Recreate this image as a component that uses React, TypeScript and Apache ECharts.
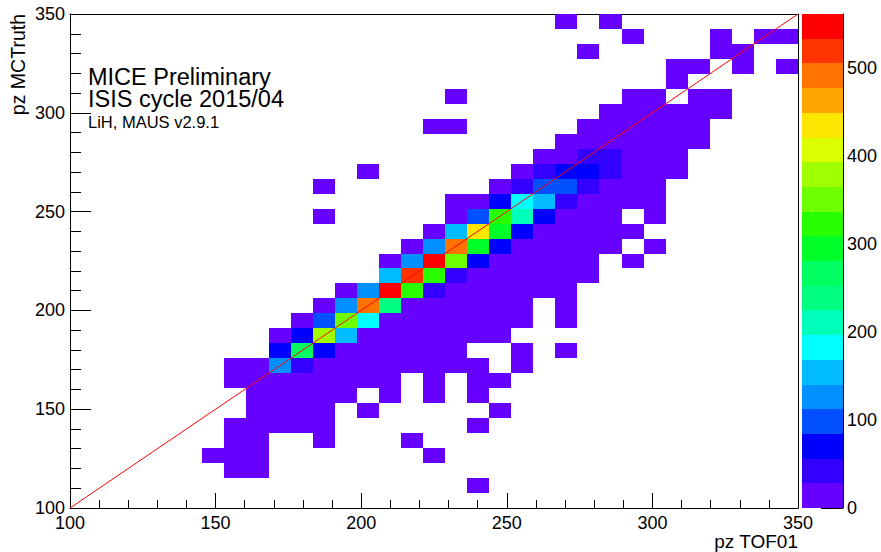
import React, { useEffect, useRef } from "react";
import * as echarts from "echarts";

const FONT = "'Liberation Sans', Arial, sans-serif";

const axisMin = 100;
const axisMax = 350;
const binCount = 33;
const zMax = 561.4;
const lowCount = 10;

const xTicks = [100, 150, 200, 250, 300, 350];
const zTicks = [0, 100, 200, 300, 400, 500];
const diagonal = [100, 350];

// ROOT palette, bottom band first
const palette = [
  "#6600ff", "#3300ff", "#0000ff", "#0050ff", "#0090ff",
  "#00bbff", "#00ffff", "#00ffbb", "#00ff80", "#00ff60",
  "#00ff28", "#28ff00", "#6eff00", "#a0ff00", "#dcff00",
  "#ffe600", "#ffa500", "#ff7300", "#ff3300", "#ff0000",
];

// For each y bin (bottom first): runs of x bins holding a small count
const lowRuns: number[][][] = [
  [],
  [[18, 18]],
  [[7, 8]],
  [[6, 8], [16, 16]],
  [[7, 8], [11, 11], [15, 15]],
  [[7, 11], [18, 18]],
  [[8, 11], [13, 13], [19, 19]],
  [[8, 12], [14, 14], [16, 16], [18, 18]],
  [[7, 14], [16, 16], [18, 19]],
  [[7, 18], [20, 20]],
  [[9, 17], [20, 20], [22, 22]],
  [[9, 19]],
  [[10, 20], [22, 22]],
  [[11, 20], [22, 22]],
  [[12, 22]],
  [[14, 23]],
  [[14, 23], [25, 25]],
  [[15, 24], [26, 26]],
  [[16, 25]],
  [[11, 11], [17, 24], [26, 26]],
  [[17, 26]],
  [[11, 11], [19, 26]],
  [[13, 13], [20, 27]],
  [[21, 27]],
  [[22, 28]],
  [[16, 17], [23, 28]],
  [[24, 29]],
  [[17, 17], [25, 26], [28, 29]],
  [[27, 27]],
  [[27, 28], [30, 30], [32, 32]],
  [[23, 23], [29, 30]],
  [[25, 25], [29, 29], [31, 32]],
  [[22, 22], [24, 24]],
];

// Ridge cells: x bin, y bin, count
const ridgeCells: number[][] = [
  [9, 9, 126], [10, 9, 40],
  [9, 10, 70], [10, 10, 267], [11, 10, 70],
  [10, 11, 70], [11, 11, 379], [12, 11, 154],
  [11, 12, 98], [12, 12, 351], [13, 12, 182],
  [12, 13, 126], [13, 13, 491], [14, 13, 238],
  [13, 14, 126], [14, 14, 547], [15, 14, 323], [16, 14, 40],
  [14, 15, 154], [15, 15, 519], [16, 15, 323], [17, 15, 40],
  [15, 16, 126], [16, 16, 547], [17, 16, 351], [18, 16, 70],
  [16, 17, 126], [17, 17, 491], [18, 17, 295], [19, 17, 70],
  [17, 18, 154], [18, 18, 435], [19, 18, 295], [20, 18, 70],
  [18, 19, 98], [19, 19, 323], [20, 19, 210], [21, 19, 70],
  [19, 20, 70], [20, 20, 182], [21, 20, 154], [22, 20, 40],
  [20, 21, 40], [21, 21, 98], [22, 21, 98], [23, 21, 40],
  [21, 22, 40], [22, 22, 70], [23, 22, 70], [24, 22, 40],
  [23, 23, 40], [24, 23, 40],
];

const binWidth = (axisMax - axisMin) / binCount;
const bandWidth = zMax / palette.length;

function colorOf(v: number) {
  const i = Math.min(palette.length - 1, Math.floor(v / bandWidth));
  return palette[i];
}

function buildCells() {
  const counts = new Map<string, number>();
  lowRuns.forEach((runs, j) => {
    runs.forEach(([a, b]) => {
      for (let k = a; k <= b; k++) counts.set(k + "," + j, lowCount);
    });
  });
  ridgeCells.forEach(([k, j, c]) => counts.set(k + "," + j, c));
  const out: number[][] = [];
  counts.forEach((c, key) => {
    const [k, j] = key.split(",").map(Number);
    out.push([
      axisMin + k * binWidth,
      axisMin + (k + 1) * binWidth,
      axisMin + j * binWidth,
      axisMin + (j + 1) * binWidth,
      c,
    ]);
  });
  return out;
}

// Edges are snapped to whole pixels so neighbouring cells leave no seam
const rectItem = (fill: (v: number) => string) => (_: any, api: any) => {
  const p0 = api.coord([api.value(0), api.value(2)]);
  const p1 = api.coord([api.value(1), api.value(3)]);
  const x0 = Math.round(p0[0]);
  const x1 = Math.round(p1[0]);
  const y0 = Math.round(p1[1]);
  const y1 = Math.round(p0[1]);
  return {
    type: "rect",
    shape: { x: x0, y: y0, width: x1 - x0, height: y1 - y0 },
    style: { fill: fill(api.value(4)) },
  };
};

const axisLabelStyle = { fontFamily: FONT, fontSize: 18, color: "#000" };
const axisLineStyle = { color: "#000", width: 1 };

export default function App() {
  const ref = useRef<HTMLDivElement>(null);
  useEffect(() => {
    document.body.style.margin = "0";
    const chart = echarts.init(ref.current!, undefined, { renderer: "svg" });
    const bandRows = palette.map((_, i) => [0, 1, i * bandWidth, (i + 1) * bandWidth, (i + 0.5) * bandWidth]);
    chart.setOption({
      animation: false,
      backgroundColor: "#fff",
      grid: [
        { left: 70, right: 83, top: 14, bottom: 44 },
        { left: 802, right: 38, top: 14, bottom: 44 },
      ],
      xAxis: [
        {
          type: "value", gridIndex: 0, min: axisMin, max: axisMax, interval: 50, position: "bottom",
          splitLine: { show: false },
          axisLine: { onZero: false, lineStyle: axisLineStyle },
          axisTick: { inside: true, length: 15, lineStyle: { color: "#000" } },
          minorTick: { show: true, splitNumber: 5, length: 8, lineStyle: { color: "#000" } },
          minorSplitLine: { show: false },
          axisLabel: { ...axisLabelStyle, margin: 6, customValues: xTicks },
        },
        {
          type: "value", gridIndex: 0, min: axisMin, max: axisMax, position: "top",
          splitLine: { show: false }, axisTick: { show: false }, axisLabel: { show: false },
          axisLine: { onZero: false, lineStyle: axisLineStyle },
        },
        {
          type: "value", gridIndex: 1, min: 0, max: 1, show: false, splitLine: { show: false },
        },
      ],
      yAxis: [
        {
          type: "value", gridIndex: 0, min: axisMin, max: axisMax, interval: 50, position: "left",
          splitLine: { show: false },
          axisLine: { onZero: false, lineStyle: axisLineStyle },
          axisTick: { inside: true, length: 21, lineStyle: { color: "#000" } },
          minorTick: { show: true, splitNumber: 5, length: 11, lineStyle: { color: "#000" } },
          axisLabel: { ...axisLabelStyle, margin: 5, padding: [3, 0, 0, 0] },
        },
        {
          type: "value", gridIndex: 0, min: axisMin, max: axisMax, position: "right",
          splitLine: { show: false }, axisTick: { show: false }, axisLabel: { show: false },
          axisLine: { onZero: false, lineStyle: axisLineStyle },
        },
        {
          type: "value", gridIndex: 1, min: 0, max: zMax, position: "right",
          splitLine: { show: false },
          axisLine: { onZero: false, lineStyle: axisLineStyle },
          axisTick: { inside: true, length: 22, lineStyle: { color: "#000" }, customValues: zTicks },
          axisLabel: { ...axisLabelStyle, margin: 4, padding: [1, 0, 0, 0], customValues: zTicks },
        },
      ],
      series: [
        {
          type: "custom", xAxisIndex: 0, yAxisIndex: 0, silent: true, z: 1,
          encode: { x: [0, 1], y: [2, 3] },
          data: buildCells(),
          renderItem: rectItem(colorOf),
        },
        {
          type: "line", xAxisIndex: 0, yAxisIndex: 0, silent: true, z: 2, showSymbol: false,
          data: diagonal.map((v) => [v, v]),
          lineStyle: { color: "#ff0000", width: 1 },
        },
        {
          type: "custom", xAxisIndex: 2, yAxisIndex: 2, silent: true, z: 1,
          encode: { x: [0, 1], y: [2, 3] },
          data: bandRows,
          renderItem: rectItem(colorOf),
        },
      ],
      graphic: [
        { type: "text", x: 798, y: 541, style: { text: "pz TOF01", font: `19px ${FONT}`, fill: "#000", align: "right", verticalAlign: "middle" } },
        { type: "text", x: 17.5, y: 14, rotation: Math.PI / 2, style: { text: "pz MCTruth", font: `19.5px ${FONT}`, fill: "#000", align: "right", verticalAlign: "middle" } },
        { type: "text", x: 88, y: 76.5, z: 10, style: { text: "MICE Preliminary", font: `23.5px ${FONT}`, fill: "#000", align: "left", verticalAlign: "middle" } },
        { type: "text", x: 88, y: 98.5, z: 10, style: { text: "ISIS cycle 2015/04", font: `23.5px ${FONT}`, fill: "#000", align: "left", verticalAlign: "middle" } },
        { type: "text", x: 88, y: 122, z: 10, style: { text: "LiH, MAUS v2.9.1", font: `16.5px ${FONT}`, fill: "#000", align: "left", verticalAlign: "middle" } },
      ],
    });
    return () => chart.dispose();
  }, []);
  return <div ref={ref} style={{ width: 881, height: 552, background: "#fff" }} />;
}
